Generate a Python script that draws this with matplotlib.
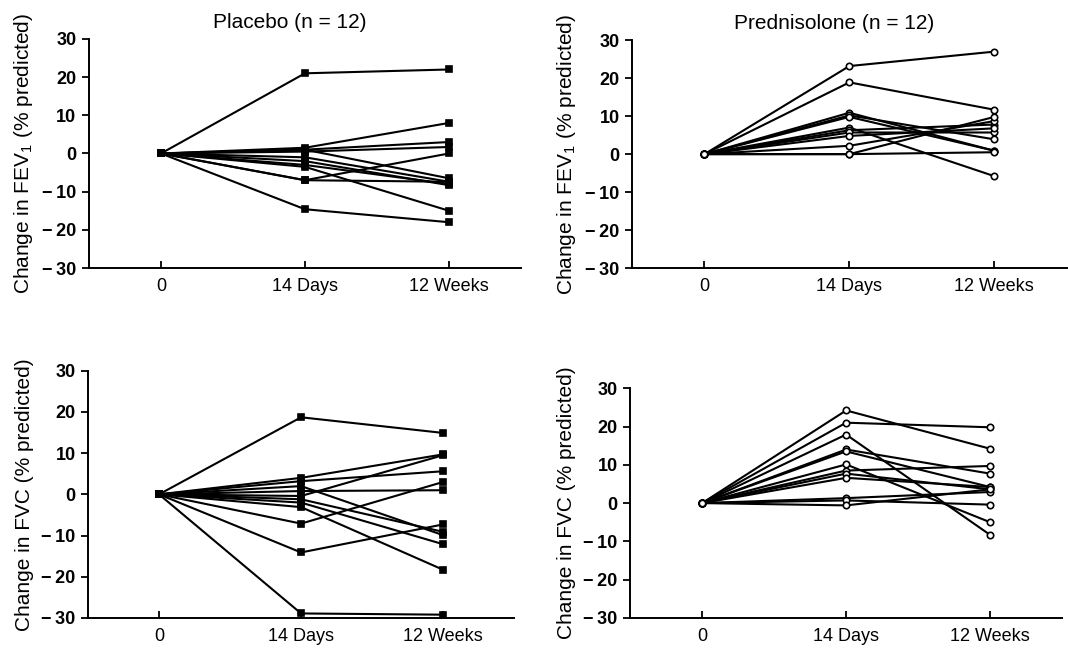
import matplotlib
matplotlib.use('Agg')
import matplotlib.pyplot as plt
import numpy as np

plt.rcParams['font.family'] = ['Liberation Sans', 'DejaVu Sans']
plt.rcParams['mathtext.fontset'] = 'custom'
plt.rcParams['mathtext.rm'] = 'Liberation Sans'

# time points and their labels
time_points = [0, 1, 2]
time_labels = ['0', '14 Days', '12 Weeks']

# change from baseline (% predicted), one entry per patient
placebo_fev1_14d = [21, 1.5, 1, 0.5, 1, -1, -2, -3, -3.5, -7, -7, -14.6]
placebo_fev1_12w = [22, 8, 3, 1.7, -6.5, -7.4, -8.3, -8, -15, -7.4, 0, -18]

pred_fev1_14d = [23.2, 18.9, 10.9, 10.2, 9.8, 7.0, 6.3, 5.7, 4.8, 2.2, 0, 0]
pred_fev1_12w = [27, 11.7, 0.9, 3.9, 0.9, -5.8, 7.8, 5.7, 6.8, 8.7, 9.8, 0.5]

placebo_fvc_14d = [18.7, 4.0, 3.2, 2.0, -0.4, 0.8, -7.1, -14.1, -28.9, -3.1, -1.2, -2]
placebo_fvc_12w = [14.9, 9.7, 5.6, -9.9, 9.5, 1.0, 3.0, -7.3, -29.2, -18.3, -9.1, -12.1]

pred_fvc_14d = [24.2, 21, 17.9, 14, 13.5, 10.1, 8.5, 7.7, 6.6, 1.3, 0.7, -0.6]
pred_fvc_12w = [14.2, 19.8, -8.3, 7.7, 4.2, -5, 9.7, 3.6, 4.2, 2.9, -0.4, 3.6]

y_ticks = [-30, -20, -10, 0, 10, 20, 30]

fev1_label = r'Change in FEV$_\mathregular{1}$ (% predicted)'
fvc_label = 'Change in FVC (% predicted)'

fig = plt.figure(figsize=(10.68, 6.49), dpi=100)

# axes placed to match the original layout (left, bottom, width, height)
panels = [
    ([0.0833, 0.587, 0.4045, 0.353], placebo_fev1_14d, placebo_fev1_12w, 's', 'black', fev1_label, 'Placebo (n = 12)'),
    ([0.5918, 0.587, 0.407, 0.351], pred_fev1_14d, pred_fev1_12w, 'o', 'white', fev1_label, 'Prednisolone (n = 12)'),
    ([0.0824, 0.0478, 0.399, 0.381], placebo_fvc_14d, placebo_fvc_12w, 's', 'black', fvc_label, None),
    ([0.590, 0.0478, 0.4045, 0.354], pred_fvc_14d, pred_fvc_12w, 'o', 'white', fvc_label, None),
]

for rect, d14, w12, marker, face, ylabel, title in panels:
    ax = fig.add_axes(rect)
    for a, b in zip(d14, w12):
        ax.plot(time_points, [0, a, b], color='black', lw=1.5,
                marker=marker, markersize=5.0 if marker == 's' else 4.6,
                markerfacecolor=face, markeredgecolor='black', markeredgewidth=1.2)

    ax.set_xlim(-0.5, 2.5)
    ax.set_ylim(-30, 30)
    ax.set_xticks(time_points)
    ax.set_xticklabels(time_labels, fontsize=13)
    ax.set_yticks(y_ticks)
    ax.set_yticklabels([('\u2212\u2009' + str(-t)) if t < 0 else str(t) for t in y_ticks],
                       fontsize=13, fontweight='bold')
    ax.tick_params(axis='x', direction='in', length=5, width=1.3, pad=7)
    ax.tick_params(axis='y', direction='out', length=5, width=1.3, pad=4)

    for side in ['top', 'right']:
        ax.spines[side].set_visible(False)
    for side in ['left', 'bottom']:
        ax.spines[side].set_linewidth(1.4)

    ax.set_ylabel(ylabel, fontsize=15, labelpad=5)
    if title:
        ax.set_title(title, fontsize=15, x=0.465, pad=8)

plt.savefig('out.png', dpi=100)
